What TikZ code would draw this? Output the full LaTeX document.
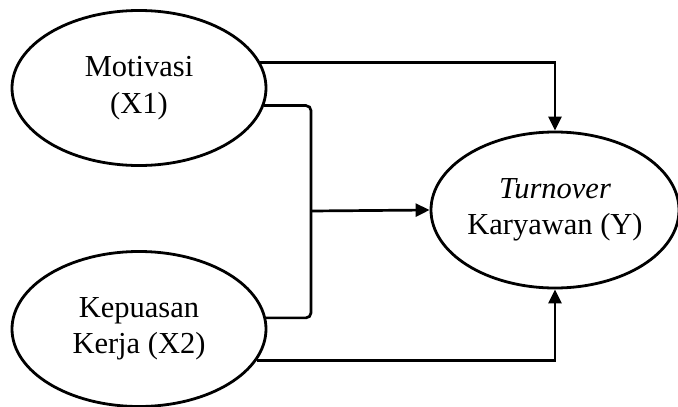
\documentclass[tikz,border=0pt]{standalone}
\usepackage{fontspec}
\setmainfont{Liberation Serif}
\usetikzlibrary{shapes.geometric,arrows.meta}
\tikzset{
  var/.style={ellipse, draw, line width=2.8pt, minimum width=254pt, minimum height=155pt,
    inner sep=0pt, align=center, font=\fontsize{30.5}{36.5}\selectfont},
  conn/.style={line width=2.7pt},
  arr/.style={conn, -{Triangle[length=14pt,width=13pt]}}
}
\begin{document}
\begin{tikzpicture}[x=1pt,y=-1pt]
\useasboundingbox (0,0) rectangle (678,407);
\node[var] (m) at (139,88) {Motivasi\\(X1)};
\node[var] (k) at (139,329) {Kepuasan\\Kerja (X2)};
\node[var, minimum width=248pt, minimum height=156pt] (y) at (555,210) {\textit{Turnover}\\Karyawan (Y)};
\coordinate (j) at (311,211);
\draw[arr] (m.12.3) -| (y.north);
\draw[arr] (k.-15.4) -| (y.south);
\draw[conn, rounded corners=5pt] (m.-8.3) -| (j) |- (k.5.5);
\draw[arr] (j) -- (y.west);
\end{tikzpicture}
\end{document}
